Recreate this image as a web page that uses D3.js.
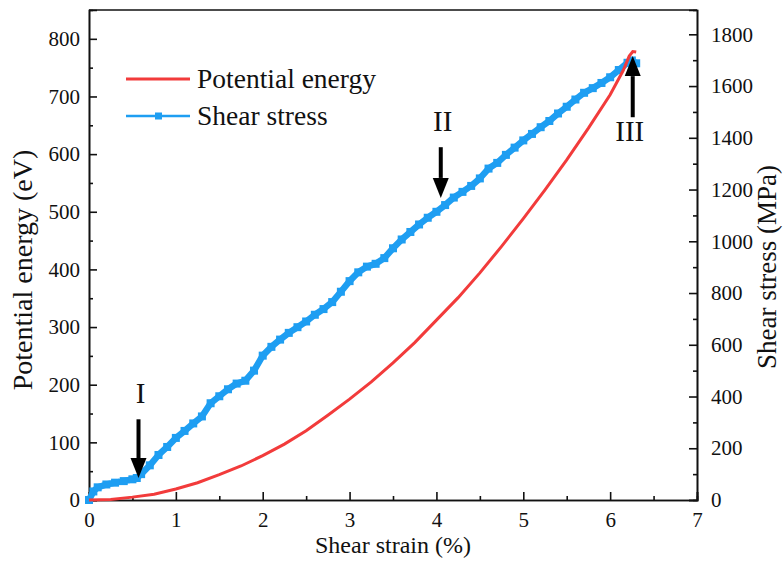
<!DOCTYPE html>
<html><head><meta charset="utf-8">
<script src="https://cdn.jsdelivr.net/npm/d3@7"></script>
<style>body{margin:0;background:#fff}svg{display:block}text{font-family:"Liberation Serif","Times New Roman",serif;fill:#111}</style>
</head><body><svg id="c" width="783" height="573"></svg>
<script>
// ---- data ----
const energyStrain = [0,0.25,0.5,0.75,1,1.25,1.5,1.75,2,2.25,2.5,2.75,3,3.25,3.5,3.75,4,4.25,4.5,4.75,5,5.25,5.5,5.75,6,6.15,6.22,6.26,6.3];
const energyValues = [0,1,5,10,19,30,44,59,77,97,120,147,175,205,238,273,312,351,394,440,488,538,590,645,703,745,770,778,777];
const stressStrain = [0,0.05,0.1,0.2,0.3,0.4,0.5,0.55,0.6,0.7,0.8,0.9,1.0,1.1,1.2,1.3,1.4,1.5,1.6,1.7,1.8,1.9,2.0,2.1,2.2,2.3,2.4,2.5,2.6,2.7,2.8,2.9,3.0,3.1,3.2,3.3,3.4,3.5,3.6,3.7,3.8,3.9,4.0,4.1,4.2,4.3,4.4,4.5,4.6,4.7,4.8,4.9,5.0,5.1,5.2,5.3,5.4,5.5,5.6,5.7,5.8,5.9,6.0,6.1,6.2,6.25,6.3];
const stressValues = [0,33,49,60,67,73,80,85,100,134,174,205,240,267,296,323,374,401,428,450,461,500,558,592,620,646,668,690,716,738,765,805,846,880,902,913,935,973,1007,1036,1065,1091,1114,1140,1169,1191,1214,1243,1281,1303,1334,1362,1390,1415,1441,1465,1494,1520,1548,1574,1592,1612,1634,1662,1690,1699,1688];
const xTicks = [0,1,2,3,4,5,6,7];
const yLeftTicks = [0,100,200,300,400,500,600,700,800];
const yRightTicks = [0,200,400,600,800,1000,1200,1400,1600,1800];
const seriesNames = ["Potential energy","Shear stress"];
const markers = [{label:"I",x:0.57,from:140,to:38},{label:"II",x:4.05,from:612,to:524},{label:"III",x:6.26,from:664,to:770}];

// ---- layout ----
const L=89,R=697,T=10,B=500;
const svg=d3.select("#c");
const x=d3.scaleLinear().domain([0,7]).range([L,R]);
const yL=d3.scaleLinear().domain([0,850]).range([B,T]);
const yR=d3.scaleLinear().domain([0,1894]).range([B,T]);
const red="#F23B3B", blue="#1E9EF2";

function styleAxis(g){g.select(".domain").attr("stroke","#111").attr("stroke-width",1.6);g.selectAll(".tick line").attr("stroke","#111").attr("stroke-width",1.6);g.selectAll("text").style("font-size","21px").style("font-family","Liberation Serif").attr("fill","#111");}
const minorX=d3.range(0.5,7,1), minorL=d3.range(50,850,100), minorR=d3.range(100,1894,200);
svg.append("g").attr("transform",`translate(0,${B})`).call(d3.axisBottom(x).tickValues(minorX).tickSize(-4).tickFormat("")).call(styleAxis);
svg.append("g").attr("transform",`translate(0,${B})`).call(d3.axisBottom(x).tickValues(xTicks).tickSize(-8).tickPadding(12).tickFormat(d3.format("d"))).call(styleAxis);
svg.append("g").attr("transform",`translate(${L},0)`).call(d3.axisLeft(yL).tickValues(minorL).tickSize(-4).tickFormat("")).call(styleAxis);
svg.append("g").attr("transform",`translate(${L},0)`).call(d3.axisLeft(yL).tickValues(yLeftTicks).tickSize(-8).tickPadding(9).tickFormat(d3.format("d"))).call(styleAxis);
svg.append("g").attr("transform",`translate(${R},0)`).call(d3.axisRight(yR).tickValues(minorR).tickSize(-4).tickFormat("")).call(styleAxis);
svg.append("g").attr("transform",`translate(${R},0)`).call(d3.axisRight(yR).tickValues(yRightTicks).tickSize(-8).tickPadding(14).tickFormat(d3.format("d"))).call(styleAxis);
svg.append("line").attr("x1",L).attr("x2",R).attr("y1",T).attr("y2",T).attr("stroke","#111").attr("stroke-width",1.6);

// titles
svg.append("text").attr("x",393).attr("y",553).attr("text-anchor","middle").style("font-size","24px").text("Shear strain (%)");
svg.append("text").attr("transform",`translate(32,270) rotate(-90)`).attr("text-anchor","middle").style("font-size","28px").text("Potential energy (eV)");
svg.append("text").attr("transform",`translate(776,267) rotate(-90)`).attr("text-anchor","middle").style("font-size","27px").text("Shear stress (MPa)");

// series
const eData=energyStrain.map((s,i)=>[s,energyValues[i]]);
const sData=stressStrain.map((s,i)=>[s,stressValues[i]]);
const plot=svg.append("g");
plot.append("path").datum(sData).attr("fill","none").attr("stroke",blue).attr("stroke-width",6.5).attr("stroke-linejoin","round")
  .attr("d",d3.line().x(d=>x(d[0])).y(d=>yR(d[1])));
plot.selectAll("rect.m").data(sData).join("rect").attr("class","m").attr("fill",blue)
  .attr("x",d=>x(d[0])-4).attr("y",d=>yR(d[1])-4).attr("width",8).attr("height",8);
plot.append("path").datum(eData).attr("fill","none").attr("stroke",red).attr("stroke-width",3)
  .attr("d",d3.line().x(d=>x(d[0])).y(d=>yL(d[1])));

// arrows
const ar=svg.append("g");
markers.forEach(m=>{
  const xp=x(m.x), y1=yL(m.from), y2=yL(m.to);
  const dir=Math.sign(y2-y1), hl=20, hw=8;
  ar.append("line").attr("x1",xp).attr("x2",xp).attr("y1",y1).attr("y2",y2-dir*hl).attr("stroke","#000").attr("stroke-width",4);
  ar.append("path").attr("d",`M${xp},${y2} L${xp-hw},${y2-dir*hl} L${xp+hw},${y2-dir*hl} Z`).attr("fill","#000");
  const ly = dir>0 ? y1-16 : y1+24;
  ar.append("text").attr("x",xp+(dir>0?2:-3)).attr("y",ly).attr("text-anchor","middle").style("font-size","29px").text(m.label);
});

// legend
const lg=svg.append("g");
[red,blue].forEach((c,i)=>{
  const yy=79+i*37;
  lg.append("line").attr("x1",126).attr("x2",190).attr("y1",yy).attr("y2",yy).attr("stroke",c).attr("stroke-width",i?2.5:3);
  if(i) lg.append("rect").attr("x",155).attr("y",yy-3.5).attr("width",7).attr("height",7).attr("fill",c);
  lg.append("text").attr("x",197).attr("y",yy+9).style("font-size","27.5px").text(seriesNames[i]);
});
</script></body></html>
